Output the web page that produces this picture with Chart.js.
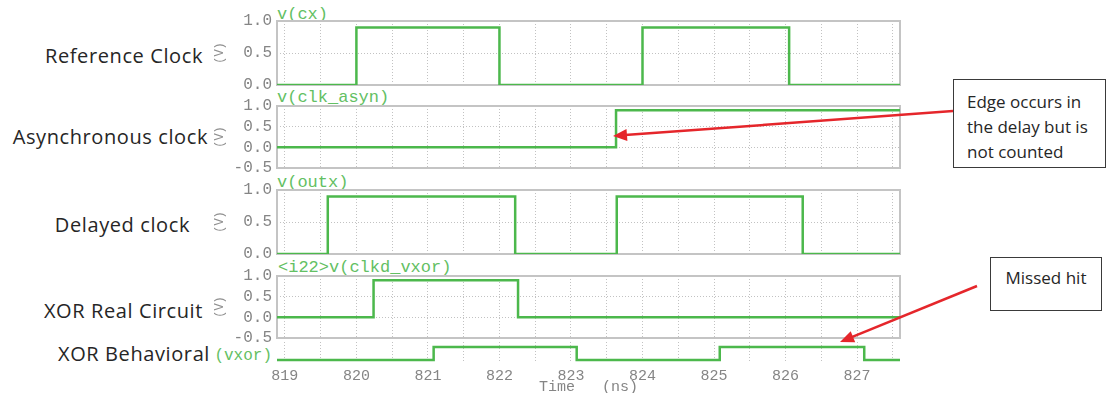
<!DOCTYPE html>
<html>
<head>
<meta charset="utf-8">
<script src="https://cdn.jsdelivr.net/npm/chart.js@4.4.1/dist/chart.umd.min.js"></script>
<style>
  html, body { margin: 0; padding: 0; background: #fff; }
  #stage { position: relative; width: 1117px; height: 393px; overflow: hidden; background: #fff; }
  canvas.panel { position: absolute; left: 200px; }
  .side { position: absolute; font-family: "Open Sans", sans-serif; font-size: 20px; color: #262626;
          white-space: nowrap; line-height: 1; letter-spacing: 0.6px; transform: translateY(-50%); }
  .trace { position: absolute; font-family: "Liberation Mono", monospace; font-size: 17px; color: #63c063;
           white-space: nowrap; line-height: 1; transform: translateY(-50%); }
  .note { position: absolute; border: 1.5px solid #3a3a3a; background: #fff; box-sizing: border-box;
          font-family: "Open Sans", sans-serif; font-size: 17px; color: #262626; line-height: 25px; }
  svg#marks { position: absolute; left: 0; top: 0; pointer-events: none; }
</style>
</head>
<body>
<div id="stage">
  <div class="side" style="right:914px; top:56px;">Reference Clock</div>
  <div class="side" style="right:909px; top:137px;">Asynchronous clock</div>
  <div class="side" style="right:927px; top:225px;">Delayed clock</div>
  <div class="side" style="right:914px; top:311px;">XOR Real Circuit</div>
  <div class="side" style="right:907px; top:354px;">XOR Behavioral</div>

  <div class="trace" style="left:277px; top:14px;">v(cx)</div>
  <div class="trace" style="left:277px; top:97px;">v(clk_asyn)</div>
  <div class="trace" style="left:277px; top:182px;">v(outx)</div>
  <div class="trace" style="left:278px; top:267px;">&lt;i22&gt;v(clkd_vxor)</div>
  <div class="trace" style="right:845px; top:356px; font-size:16px;">(vxor)</div>

  <canvas class="panel" id="p1"></canvas>
  <canvas class="panel" id="p2"></canvas>
  <canvas class="panel" id="p3"></canvas>
  <canvas class="panel" id="p4"></canvas>
  <canvas class="panel" id="p5"></canvas>

  <svg id="marks" width="1117" height="393"></svg>

  <div class="note" style="left:953px; top:79px; width:153px; height:89px; padding:9px 0 0 13px;">Edge occurs in<br>the delay but is<br>not counted</div>
  <div class="note" style="left:990px; top:257px; width:112px; height:54px; padding-top:7px; text-align:center;">Missed hit</div>
</div>

<script>
// Time window (ns) shared by every trace
const T_MIN = 818.89;
const T_MAX = 827.6;

// Each trace: edge times (ns) and the level held from that time on (V)
const cxTimes    = [818.89, 820.0, 822.0, 824.0, 826.05, 827.6];
const cxLevels   = [0, 0.9, 0, 0.9, 0, 0];

const asynTimes  = [818.89, 823.63, 827.6];
const asynLevels = [0, 0.9, 0.9];

const outxTimes  = [818.89, 819.6, 822.22, 823.64, 826.24, 827.6];
const outxLevels = [0, 0.9, 0, 0.9, 0, 0];

const xorTimes   = [818.89, 820.24, 822.26, 827.6];
const xorLevels  = [0, 0.9, 0, 0];

// Behavioural XOR is a logic trace: 0 = low, 1 = high
const vxorTimes  = [818.89, 821.08, 823.08, 825.08, 827.1, 827.6];
const vxorLevels = [0, 1, 0, 1, 0, 0];

// Axis ticks
const yTicksUnipolar = [0, 0.5, 1.0];
const yTicksBipolar  = [-0.5, 0, 0.5, 1.0];
const timeTickLabels = [819, 820, 821, 822, 823, 824, 825, 826, 827];

const GREEN = '#4cb84c';
const GRID = '#c2c2c2';
const GRID_DASH = [1, 2];
const FRAME = '#c4c4c4';
const TICK_GRAY = '#858585';
const MONO = '"Liberation Mono", monospace';

const framePlugin = {
  id: 'frame',
  beforeDatasetsDraw(chart, args, opts) {
    if (!opts || !opts.show) return;
    const a = chart.chartArea;
    const ctx = chart.ctx;
    ctx.save();
    ctx.strokeStyle = FRAME;
    ctx.lineWidth = 2;
    ctx.strokeRect(a.left, a.top, a.right - a.left, a.bottom - a.top);
    ctx.restore();
  }
};

function toPoints(times, levels) {
  return times.map((t, i) => ({ x: t, y: levels[i] }));
}

function analogPanel(id, plotTop, plotBottom, times, levels, ticks) {
  const padTop = 12, padBottom = 9;
  const cv = document.getElementById(id);
  const h = (plotBottom - plotTop) + padTop + padBottom;
  cv.width = 710; cv.height = h;
  cv.style.top = (plotTop - padTop) + 'px';
  cv.style.width = '710px'; cv.style.height = h + 'px';
  new Chart(cv, {
    type: 'line',
    data: { datasets: [{
      data: toPoints(times, levels),
      stepped: true,
      borderColor: GREEN,
      borderWidth: 2.5,
      pointRadius: 0,
      fill: false
    }]},
    options: {
      responsive: false,
      animation: false,
      devicePixelRatio: 1,
      layout: { padding: { top: padTop, bottom: padBottom, left: 0, right: 10 } },
      plugins: { legend: { display: false }, tooltip: { enabled: false }, frame: { show: true } },
      scales: {
        x: {
          type: 'linear', min: T_MIN, max: T_MAX,
          ticks: { display: false, stepSize: 0.5, includeBounds: false, autoSkip: false },
          grid: { color: GRID, lineWidth: 1, drawTicks: false },
          border: { display: false, dash: GRID_DASH },
          afterFit(s) { s.height = 0; }
        },
        y: {
          min: ticks[0], max: ticks[ticks.length - 1],
          afterBuildTicks(s) { s.ticks = ticks.map(v => ({ value: v })); },
          ticks: {
            autoSkip: false,
            callback: v => Number(v).toFixed(1),
            font: { family: MONO, size: 16, lineHeight: 1 }, color: TICK_GRAY, padding: 5
          },
          grid: { color: GRID, lineWidth: 1, drawTicks: false },
          border: { display: false, dash: GRID_DASH },
          title: { display: true, text: '(V)', font: { family: MONO, size: 12 }, color: '#8f8f8f', padding: { top: 13, bottom: 0 } },
          afterFit(s) { s.width = 77; }
        }
      }
    },
    plugins: [framePlugin]
  });
}

analogPanel('p1', 20, 89, cxTimes, cxLevels, yTicksUnipolar);
analogPanel('p2', 105, 172, asynTimes, asynLevels, yTicksBipolar);
analogPanel('p3', 189, 258, outxTimes, outxLevels, yTicksUnipolar);
analogPanel('p4', 275, 342, xorTimes, xorLevels, yTicksBipolar);

// Logic trace with the shared time axis underneath
(function () {
  const cv = document.getElementById('p5');
  const top = 333, h = 60, padTop = 9;
  cv.width = 710; cv.height = h;
  cv.style.top = top + 'px'; cv.style.width = '710px'; cv.style.height = h + 'px';
  new Chart(cv, {
    type: 'line',
    data: { datasets: [{
      data: toPoints(vxorTimes, vxorLevels),
      stepped: true,
      borderColor: GREEN,
      borderWidth: 2.5,
      pointRadius: 0,
      fill: false
    }]},
    options: {
      responsive: false,
      animation: false,
      devicePixelRatio: 1,
      layout: { padding: { top: padTop, bottom: 0, left: 77, right: 10 } },
      plugins: { legend: { display: false }, tooltip: { enabled: false }, frame: { show: false } },
      scales: {
        x: {
          type: 'linear', min: T_MIN, max: T_MAX,
          ticks: {
            stepSize: 0.5, includeBounds: false, autoSkip: false, maxRotation: 0,
            callback: v => timeTickLabels.includes(v) ? String(v) : '',
            font: { family: MONO, size: 15, lineHeight: 1 }, color: TICK_GRAY, padding: 6
          },
          grid: { color: GRID, lineWidth: 1, drawTicks: false },
          border: { display: false, dash: GRID_DASH },
          title: { display: true, text: 'Time   (ns)', font: { family: MONO, size: 15, lineHeight: 1 }, color: TICK_GRAY, padding: { top: 0, bottom: -2 } },
          afterFit(s) { s.height = 30; }
        },
        y: { display: false, min: -0.23, max: 1.38 }
      }
    },
    plugins: [framePlugin]
  });
})();

// Red callout arrows from the notes to the waveforms
(function () {
  const svg = document.getElementById('marks');
  const NS = 'http://www.w3.org/2000/svg';
  function arrow(x1, y1, x2, y2) {
    const dx = x2 - x1, dy = y2 - y1, len = Math.hypot(dx, dy);
    const ux = dx / len, uy = dy / len, nx = -uy, ny = ux;
    const hl = 14, hw = 6;
    const bx = x2 - ux * hl, by = y2 - uy * hl;
    const line = document.createElementNS(NS, 'line');
    line.setAttribute('x1', x1); line.setAttribute('y1', y1);
    line.setAttribute('x2', bx + ux * 2); line.setAttribute('y2', by + uy * 2);
    line.setAttribute('stroke', '#e5262b'); line.setAttribute('stroke-width', '2.5');
    svg.appendChild(line);
    const head = document.createElementNS(NS, 'polygon');
    head.setAttribute('points', `${x2},${y2} ${bx + nx * hw},${by + ny * hw} ${bx - nx * hw},${by - ny * hw}`);
    head.setAttribute('fill', '#e5262b');
    svg.appendChild(head);
  }
  arrow(953, 111, 613, 136);
  arrow(977, 286, 840, 342);
})();
</script>
</body>
</html>
